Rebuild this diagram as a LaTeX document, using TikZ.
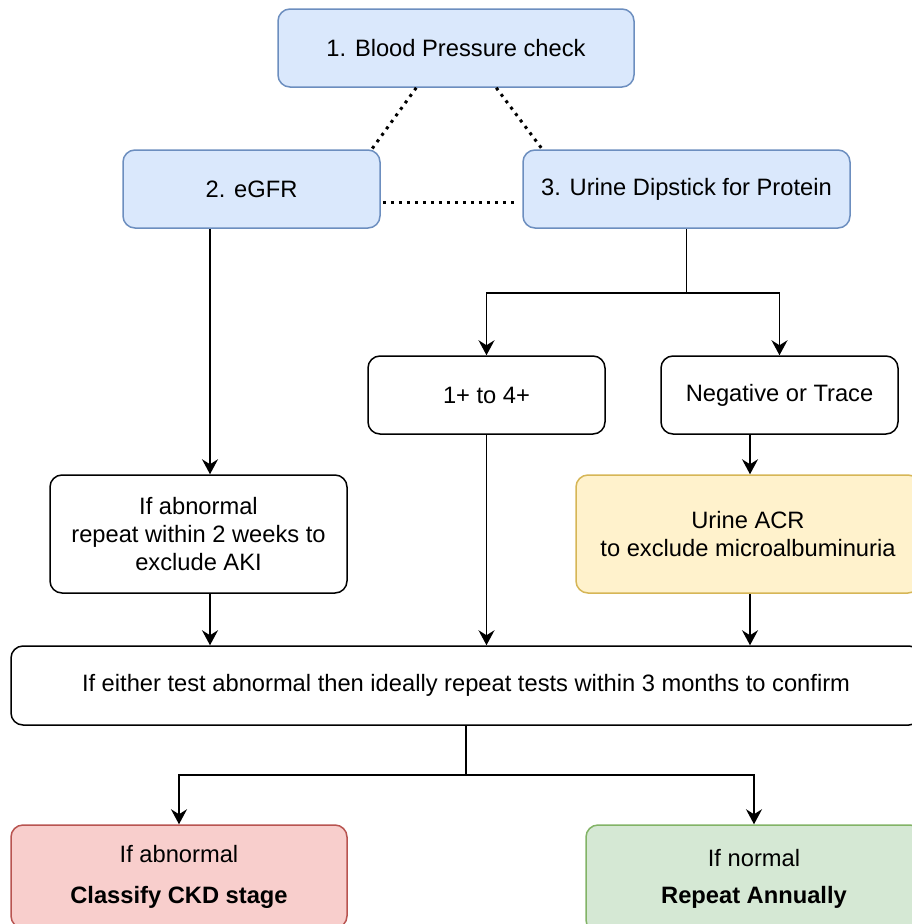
\documentclass[tikz,border=0pt]{standalone}
\usepackage{fontspec}
\setmainfont{Liberation Sans}
\usetikzlibrary{arrows.meta,calc}
\definecolor{bfill}{HTML}{DAE8FC}\definecolor{bdraw}{HTML}{6C8EBF}
\definecolor{yfill}{HTML}{FFF2CC}\definecolor{ydraw}{HTML}{D6B656}
\definecolor{rfill}{HTML}{F8CECC}\definecolor{rdraw}{HTML}{B85450}
\definecolor{gfill}{HTML}{D5E8D4}\definecolor{gdraw}{HTML}{82B366}
\begin{document}
\begin{tikzpicture}[x=1pt,y=1pt,
  box/.style={draw=black, line width=1.5pt, rounded corners=12pt, fill=white, align=center, inner sep=0pt, font=\fontsize{23.7}{28}\selectfont},
  bluebox/.style={box, draw=bdraw, fill=bfill},
  yellowbox/.style={box, draw=ydraw, fill=yfill},
  redbox/.style={box, draw=rdraw, fill=rfill},
  greenbox/.style={box, draw=gdraw, fill=gfill},
  arr/.style={-{Stealth[length=15pt,width=16pt,inset=5pt]}, line width=1.5pt},
  link/.style={line width=1.5pt},
  dotline/.style={line width=3pt, dash pattern=on 3pt off 5pt}]
\useasboundingbox (0,0) rectangle (912,-924);
\clip (0,0) rectangle (912,-924);
\fill[white] (0,0) rectangle (912,-924);

\node[bluebox, minimum width=356pt, minimum height=78pt] (bp) at (456,-48) {1. Blood Pressure check};
\node[bluebox, minimum width=257pt, minimum height=78pt] (egfr) at (251.5,-189) {2. eGFR};
\node[bluebox, minimum width=327pt, minimum height=78pt] (dip) at (686.5,-189) {3. Urine Dipstick for Protein};
\node[box, minimum width=237pt, minimum height=78pt] (pos) at (486.5,-395) {1+ to 4+};
\node[box, minimum width=237pt, minimum height=78pt] (neg) at (779.5,-395) {Negative or Trace};
\node[box, minimum width=297pt, minimum height=118pt] (abn) at (198.5,-534) {If abnormal\\repeat within 2 weeks to\\exclude AKI};
\node[yellowbox, minimum width=344pt, minimum height=118pt] (acr) at (748,-534) {Urine ACR\\to exclude microalbuminuria};
\node[box, minimum width=910pt, minimum height=79pt] (big) at (466,-685.5) {If either test abnormal then ideally repeat tests within 3 months to confirm};
\node[redbox, minimum width=336pt, minimum height=103pt] (red) at (179,-876.5) {If abnormal\\[13pt]\textbf{Classify CKD stage}};
\node[greenbox, minimum width=336pt, minimum height=107pt] (green) at (754,-878.5) {If normal\\[9pt]\textbf{Repeat Annually}};

% column coordinates
\coordinate (xa) at (210,0);
\coordinate (xn) at (750,0);

% dotted links
\draw[dotline] ($(bp.south west)+(139,0)$) -- ($(egfr.north east)+(-9,0)$);
\draw[dotline] ($(bp.south west)+(219,0)$) -- ($(dip.north west)+(20,0)$);
\draw[dotline] ($(egfr.east)+(2,-13)$) -- ($(dip.west)+(-8,-13)$);

% arrows
\draw[arr] (egfr.south -| xa) -- (abn.north -| xa);
\draw[link] (dip.south) -- ++(0,-64) coordinate (dj);
\draw[arr] (dj) -| (pos.north);
\draw[arr] (dj) -| (neg.north);
\draw[arr] (neg.south -| xn) -- (acr.north -| xn);
\draw[arr] (abn.south -| xa) -- (big.north -| xa);
\draw[arr] (pos.south) -- (big.north -| pos.south);
\draw[arr] (acr.south -| xn) -- (big.north -| xn);
\draw[link] (big.south) -- ++(0,-49) coordinate (bj);
\draw[arr] (bj) -| (red.north);
\draw[arr] (bj) -| (green.north);
\end{tikzpicture}
\end{document}
